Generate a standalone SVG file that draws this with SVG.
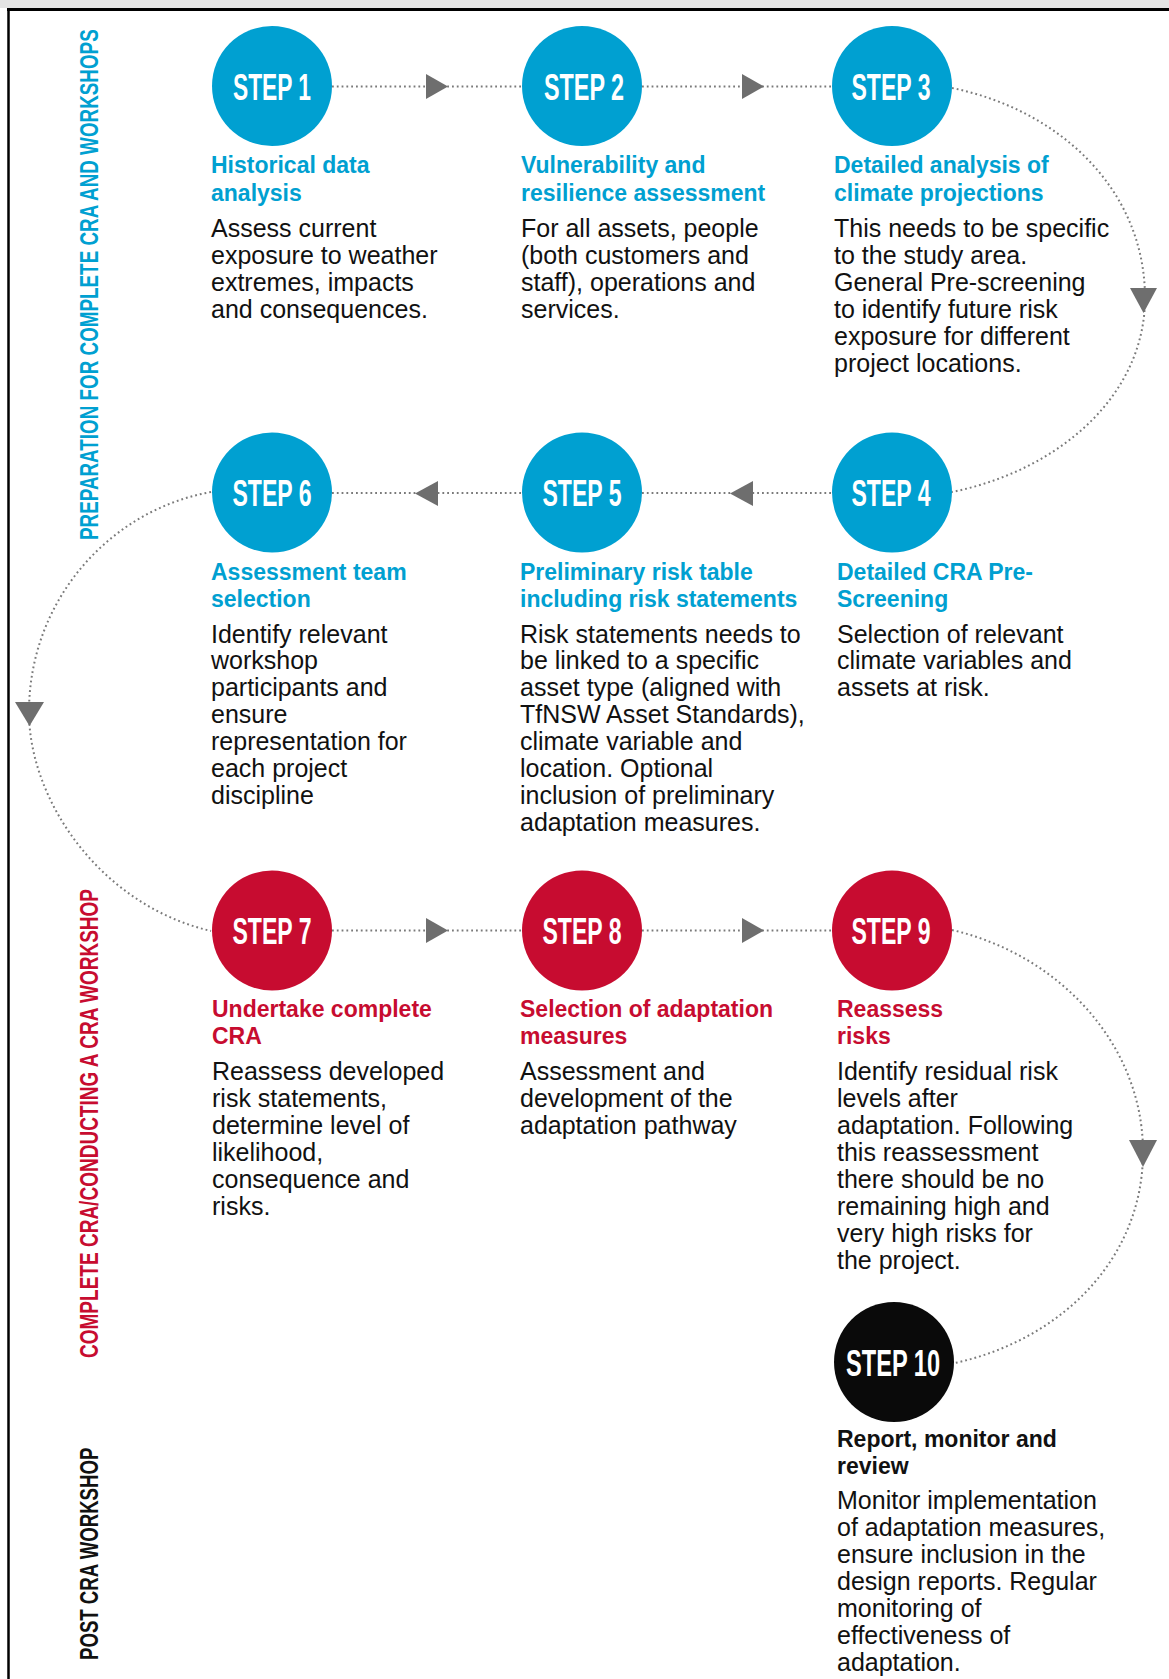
<svg xmlns="http://www.w3.org/2000/svg" width="1169" height="1679" viewBox="0 0 1169 1679">
<style>
.bg{fill:#ffffff}
.blue{fill:#00a0d1}
.red{fill:#c70c30}
.blk{fill:#0a0a0a}
.lbl{font-family:"Liberation Sans",Arial,sans-serif;font-weight:bold;font-size:37px;fill:#ffffff;text-anchor:middle}
.ttl{font-family:"Liberation Sans",Arial,sans-serif;font-weight:bold;font-size:23px}
.tb{fill:#00a0d1}
.tr{fill:#c70c30}
.tk{fill:#111111}
.body{font-family:"Liberation Sans",Arial,sans-serif;font-size:25px;fill:#111111}
.side{font-family:"Liberation Sans",Arial,sans-serif;font-weight:bold;font-size:25px}
.dot{fill:none;stroke:#7a7a7a;stroke-width:2;stroke-dasharray:1.8 3}
.arr{fill:#6e6e6e}
</style>
<rect class="bg" x="0" y="0" width="1169" height="1679"/>
<rect x="0" y="0" width="1169" height="8" fill="#e4e4e4"/>
<line x1="7" y1="9.5" x2="1169" y2="9.5" stroke="#000" stroke-width="3"/>
<line x1="8.5" y1="8" x2="8.5" y2="1679" stroke="#000" stroke-width="2.5"/>

<g id="side-labels">
<text class="side tb" transform="translate(98,540) rotate(-90) scale(0.754,1)" x="0" y="0">PREPARATION FOR COMPLETE CRA AND WORKSHOPS</text>
<text class="side tr" transform="translate(98,1358) rotate(-90) scale(0.761,1)" x="0" y="0">COMPLETE CRA/CONDUCTING A CRA WORKSHOP</text>
<text class="side tk" transform="translate(98,1660) rotate(-90) scale(0.745,1)" x="0" y="0">POST CRA WORKSHOP</text>
</g>

<g id="connectors">
<line class="dot" x1="332" y1="86.5" x2="522" y2="86.5"/>
<line class="dot" x1="642" y1="86.5" x2="832" y2="86.5"/>
<line class="dot" x1="332" y1="493" x2="522" y2="493"/>
<line class="dot" x1="642" y1="493" x2="832" y2="493"/>
<line class="dot" x1="332" y1="930.5" x2="522" y2="930.5"/>
<line class="dot" x1="642" y1="930.5" x2="832" y2="930.5"/>
<path class="dot" d="M 952 88 C 1060 110, 1145 190, 1145 298 C 1145 395, 1060 470, 952 492"/>
<path class="dot" d="M 211 492 C 110 510, 29 600, 29 712 C 29 800, 100 905, 211 931"/>
<path class="dot" d="M 952 930 C 1060 955, 1143 1045, 1143 1152 C 1143 1260, 1060 1340, 955 1363"/>
<polygon class="arr" points="426,74 426,99 448,86.5"/>
<polygon class="arr" points="742,74 742,99 764,86.5"/>
<polygon class="arr" points="730,493.5 753,481 753,506"/>
<polygon class="arr" points="415,493.5 438,481 438,506"/>
<polygon class="arr" points="426,918 426,943 448,930.5"/>
<polygon class="arr" points="742,918 742,943 764,930.5"/>
<polygon class="arr" points="1130,288 1157,288 1143.5,313"/>
<polygon class="arr" points="15,702 44,702 29.5,726"/>
<polygon class="arr" points="1129,1140 1157,1140 1143,1167"/>
</g>

<g id="step1">
<circle class="blue" cx="272" cy="86" r="60"/>
<text class="lbl" x="272" y="99.5" textLength="78" lengthAdjust="spacingAndGlyphs">STEP 1</text>
<text class="ttl tb"><tspan x="211" y="173">Historical data</tspan><tspan x="211" y="200.5">analysis</tspan></text>
<text class="body"><tspan x="211" y="236.5">Assess current</tspan><tspan x="211" y="263.5">exposure to weather</tspan><tspan x="211" y="290.5">extremes, impacts</tspan><tspan x="211" y="317.5">and consequences.</tspan></text>
</g>

<g id="step2">
<circle class="blue" cx="582" cy="86" r="60"/>
<text class="lbl" x="584" y="99.5" textLength="80" lengthAdjust="spacingAndGlyphs">STEP 2</text>
<text class="ttl tb"><tspan x="521" y="173">Vulnerability and</tspan><tspan x="521" y="200.5">resilience assessment</tspan></text>
<text class="body"><tspan x="521" y="236.5">For all assets, people</tspan><tspan x="521" y="263.5">(both customers and</tspan><tspan x="521" y="290.5">staff), operations and</tspan><tspan x="521" y="317.5">services.</tspan></text>
</g>

<g id="step3">
<circle class="blue" cx="892" cy="86" r="60"/>
<text class="lbl" x="891" y="99.5" textLength="79" lengthAdjust="spacingAndGlyphs">STEP 3</text>
<text class="ttl tb"><tspan x="834" y="173">Detailed analysis of</tspan><tspan x="834" y="200.5">climate projections</tspan></text>
<text class="body"><tspan x="834" y="236.5">This needs to be specific</tspan><tspan x="834" y="263.5">to the study area.</tspan><tspan x="834" y="290.5">General Pre-screening</tspan><tspan x="834" y="317.5">to identify future risk</tspan><tspan x="834" y="344.5">exposure for different</tspan><tspan x="834" y="371.5">project locations.</tspan></text>
</g>

<g id="step4">
<circle class="blue" cx="892" cy="492.5" r="60"/>
<text class="lbl" x="891" y="506" textLength="79" lengthAdjust="spacingAndGlyphs">STEP 4</text>
<text class="ttl tb"><tspan x="837" y="580">Detailed CRA Pre-</tspan><tspan x="837" y="607">Screening</tspan></text>
<text class="body"><tspan x="837" y="642.5">Selection of relevant</tspan><tspan x="837" y="669.4">climate variables and</tspan><tspan x="837" y="696.3">assets at risk.</tspan></text>
</g>

<g id="step5">
<circle class="blue" cx="582" cy="492.5" r="60"/>
<text class="lbl" x="582" y="506" textLength="79" lengthAdjust="spacingAndGlyphs">STEP 5</text>
<text class="ttl tb"><tspan x="520" y="580">Preliminary risk table</tspan><tspan x="520" y="607">including risk statements</tspan></text>
<text class="body"><tspan x="520" y="642.5">Risk statements needs to</tspan><tspan x="520" y="669.4">be linked to a specific</tspan><tspan x="520" y="696.3">asset type (aligned with</tspan><tspan x="520" y="723.2">TfNSW Asset Standards),</tspan><tspan x="520" y="750.1">climate variable and</tspan><tspan x="520" y="777">location. Optional</tspan><tspan x="520" y="803.9">inclusion of preliminary</tspan><tspan x="520" y="830.8">adaptation measures.</tspan></text>
</g>

<g id="step6">
<circle class="blue" cx="272" cy="492.5" r="60"/>
<text class="lbl" x="272" y="506" textLength="79" lengthAdjust="spacingAndGlyphs">STEP 6</text>
<text class="ttl tb"><tspan x="211" y="580">Assessment team</tspan><tspan x="211" y="607">selection</tspan></text>
<text class="body"><tspan x="211" y="642.5">Identify relevant</tspan><tspan x="211" y="669.4">workshop</tspan><tspan x="211" y="696.3">participants and</tspan><tspan x="211" y="723.2">ensure</tspan><tspan x="211" y="750.1">representation for</tspan><tspan x="211" y="777">each project</tspan><tspan x="211" y="803.9">discipline</tspan></text>
</g>

<g id="step7">
<circle class="red" cx="272" cy="930.5" r="60"/>
<text class="lbl" x="272" y="944" textLength="79" lengthAdjust="spacingAndGlyphs">STEP 7</text>
<text class="ttl tr"><tspan x="212" y="1017">Undertake complete</tspan><tspan x="212" y="1044">CRA</tspan></text>
<text class="body"><tspan x="212" y="1080">Reassess developed</tspan><tspan x="212" y="1107">risk statements,</tspan><tspan x="212" y="1134">determine level of</tspan><tspan x="212" y="1161">likelihood,</tspan><tspan x="212" y="1188">consequence and</tspan><tspan x="212" y="1215">risks.</tspan></text>
</g>

<g id="step8">
<circle class="red" cx="582" cy="930.5" r="60"/>
<text class="lbl" x="582" y="944" textLength="79" lengthAdjust="spacingAndGlyphs">STEP 8</text>
<text class="ttl tr"><tspan x="520" y="1017">Selection of adaptation</tspan><tspan x="520" y="1044">measures</tspan></text>
<text class="body"><tspan x="520" y="1080">Assessment and</tspan><tspan x="520" y="1107">development of the</tspan><tspan x="520" y="1134">adaptation pathway</tspan></text>
</g>

<g id="step9">
<circle class="red" cx="892" cy="930.5" r="60"/>
<text class="lbl" x="891" y="944" textLength="79" lengthAdjust="spacingAndGlyphs">STEP 9</text>
<text class="ttl tr"><tspan x="837" y="1017">Reassess</tspan><tspan x="837" y="1044">risks</tspan></text>
<text class="body"><tspan x="837" y="1080">Identify residual risk</tspan><tspan x="837" y="1107">levels after</tspan><tspan x="837" y="1134">adaptation. Following</tspan><tspan x="837" y="1161">this reassessment</tspan><tspan x="837" y="1188">there should be no</tspan><tspan x="837" y="1215">remaining high and</tspan><tspan x="837" y="1242">very high risks for</tspan><tspan x="837" y="1269">the project.</tspan></text>
</g>

<g id="step10">
<circle class="blk" cx="894" cy="1362" r="60"/>
<text class="lbl" x="893" y="1375.5" textLength="94" lengthAdjust="spacingAndGlyphs">STEP 10</text>
<text class="ttl tk"><tspan x="837" y="1446.5">Report, monitor and</tspan><tspan x="837" y="1473.5">review</tspan></text>
<text class="body"><tspan x="837" y="1508.5">Monitor implementation</tspan><tspan x="837" y="1535.5">of adaptation measures,</tspan><tspan x="837" y="1562.5">ensure inclusion in the</tspan><tspan x="837" y="1589.5">design reports. Regular</tspan><tspan x="837" y="1616.5">monitoring of</tspan><tspan x="837" y="1643.5">effectiveness of</tspan><tspan x="837" y="1670.5">adaptation.</tspan></text>
</g>
</svg>
